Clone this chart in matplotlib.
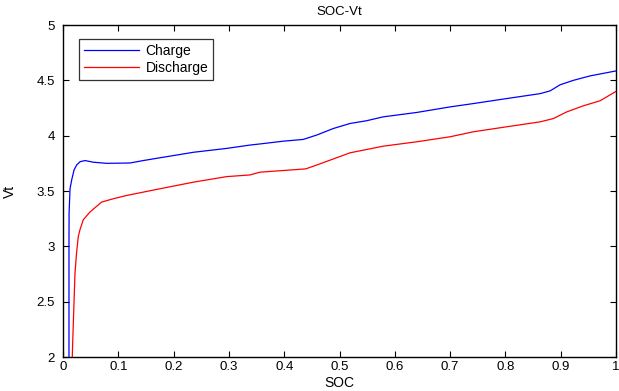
import matplotlib
matplotlib.use("Agg")
import matplotlib.pyplot as plt

# Charge curve (SOC, Vt)
charge_soc = [0.0108, 0.0108, 0.011, 0.0127, 0.0157, 0.020, 0.0247, 0.031, 0.040, 0.055,
              0.079, 0.121, 0.145, 0.175, 0.236, 0.296, 0.338, 0.356, 0.398, 0.4345,
              0.459, 0.489, 0.519, 0.549, 0.579, 0.640, 0.700, 0.742, 0.802, 0.863,
              0.881, 0.899, 0.923, 0.953, 1.0]
charge_vt = [2.0, 3.0, 3.30, 3.52, 3.60, 3.69, 3.735, 3.765, 3.775, 3.76,
             3.75, 3.753, 3.775, 3.80, 3.85, 3.885, 3.915, 3.925, 3.95, 3.966,
             4.006, 4.065, 4.11, 4.135, 4.17, 4.21, 4.26, 4.29, 4.335, 4.38,
             4.405, 4.46, 4.50, 4.54, 4.585]

# Discharge curve (SOC, Vt)
discharge_soc = [0.0168, 0.0175, 0.0187, 0.0217, 0.0247, 0.0277, 0.0307, 0.0367, 0.0487,
                 0.0698, 0.0909, 0.1155, 0.175, 0.236, 0.296, 0.338, 0.356, 0.398, 0.439,
                 0.459, 0.489, 0.519, 0.549, 0.579, 0.640, 0.700, 0.742, 0.802, 0.863,
                 0.887, 0.911, 0.941, 0.971, 1.0]
discharge_vt = [2.0, 2.13, 2.31, 2.76, 2.95, 3.09, 3.15, 3.24, 3.31,
                3.40, 3.43, 3.46, 3.52, 3.58, 3.63, 3.645, 3.67, 3.685, 3.70,
                3.735, 3.79, 3.845, 3.875, 3.905, 3.945, 3.99, 4.035, 4.08, 4.125,
                4.155, 4.215, 4.27, 4.315, 4.40]

xticks = [0, 0.1, 0.2, 0.3, 0.4, 0.5, 0.6, 0.7, 0.8, 0.9, 1]
yticks = [2, 2.5, 3, 3.5, 4, 4.5, 5]

plt.rcParams['font.family'] = ['Liberation Sans', 'DejaVu Sans']

fig = plt.figure(figsize=(6.19, 3.91), dpi=100)
ax = fig.add_axes([63/619, 34/391, 553/619, 332/391])

ax.plot(charge_soc, charge_vt, color='#0000ff', lw=0.9, label='Charge')
ax.plot(discharge_soc, discharge_vt, color='#ff0000', lw=0.9, label='Discharge')

ax.set_xlim(0, 1)
ax.set_ylim(2, 5)
ax.set_xticks(xticks)
ax.set_xticklabels([f"{t:g}" for t in xticks])
ax.set_yticks(yticks)
ax.set_yticklabels([f"{t:g}" for t in yticks])
ax.tick_params(direction='in', length=4, width=0.8, labelsize=9.5,
               top=True, right=True, colors='black')
ax.tick_params(axis='x', pad=3)
ax.tick_params(axis='y', pad=6)
for s in ax.spines.values():
    s.set_linewidth(1.0)
    s.set_color('black')

ax.set_title('SOC-Vt', fontsize=9.5, pad=7)
ax.set_xlabel('SOC', fontsize=10, labelpad=2)
ax.set_ylabel('Vt', fontsize=10, labelpad=14)

leg = ax.legend(loc='upper left', bbox_to_anchor=(16/553, 1 - 14/332), fontsize=10,
                frameon=True, fancybox=False, edgecolor='black', handlelength=4.0,
                borderpad=0.35, labelspacing=0.25, handletextpad=0.45, borderaxespad=0)
leg.get_frame().set_linewidth(0.9)

fig.savefig('out.png', dpi=100, facecolor='white')
